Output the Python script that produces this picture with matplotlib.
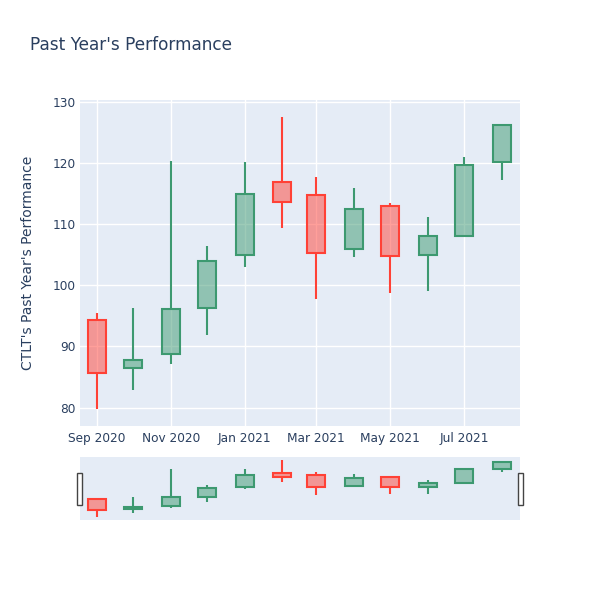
import matplotlib
matplotlib.use("Agg")
import matplotlib.pyplot as plt
import matplotlib.dates as mdates
from matplotlib.patches import Rectangle
import numpy as np
import pandas as pd

plt.rcParams['font.family'] = ['DejaVu Sans']

dates = ["2020-09-01", "2020-10-01", "2020-11-01", "2020-12-01", "2021-01-01", "2021-02-01",
         "2021-03-01", "2021-04-01", "2021-05-01", "2021-06-01", "2021-07-01", "2021-08-01"]
opens = [94.4, 86.5, 88.7, 96.25, 104.9, 116.9, 114.7, 105.9, 113.0, 104.9, 108.1, 120.2]
highs = [95.5, 96.3, 120.4, 106.5, 120.1, 127.6, 117.7, 115.9, 113.5, 111.1, 121.0, 126.2]
lows = [79.7, 82.95, 87.2, 91.9, 103.0, 109.4, 97.8, 104.65, 98.8, 99.0, 108.1, 117.2]
closes = [85.7, 87.8, 96.1, 104.05, 115.0, 113.6, 105.25, 112.45, 104.8, 108.1, 119.75, 126.2]

tick_dates = ["2020-09-01", "2020-11-01", "2021-01-01", "2021-03-01", "2021-05-01", "2021-07-01"]
tick_labels = ["Sep 2020", "Nov 2020", "Jan 2021", "Mar 2021", "May 2021", "Jul 2021"]
y_ticks = [80, 90, 100, 110, 120, 130]

title = "Past Year's Performance"
ylabel = "CTLT's Past Year's Performance"

INC = "#3D9970"
DEC = "#FF4136"
BG = "#E5ECF6"
TXT = "#2a3f5f"

x = mdates.date2num(pd.to_datetime(dates))
xlim = (mdates.date2num(pd.Timestamp("2020-08-18")), mdates.date2num(pd.Timestamp("2021-08-16")))
ylim = (77.0, 130.3)

fig = plt.figure(figsize=(6, 6), dpi=100)
ax = fig.add_axes([80/600, 1-426/600, 440/600, 326/600])
axs = fig.add_axes([80/600, 1-520/600, 440/600, 63/600])


def draw(a, lw):
    for xi, o, h, l, c in zip(x, opens, highs, lows, closes):
        col = INC if c >= o else DEC
        top, bot = max(o, c), min(o, c)
        a.vlines(xi, top, h, color=col, lw=lw, zorder=3)
        a.vlines(xi, l, bot, color=col, lw=lw, zorder=3)
        a.add_patch(Rectangle((xi - 7.4, bot), 14.8, max(top - bot, 0.05),
                              facecolor=col, alpha=0.5, edgecolor='none', zorder=3))
        a.add_patch(Rectangle((xi - 7.4, bot), 14.8, max(top - bot, 0.05),
                              facecolor='none', edgecolor=col, lw=lw, zorder=4))


for a in (ax, axs):
    a.set_facecolor(BG)
    for s in a.spines.values():
        s.set_visible(False)
    a.set_xlim(*xlim)
    a.set_ylim(*ylim)

draw(ax, 1.5)
draw(axs, 1.5)

ax.set_yticks(y_ticks)
ax.set_yticklabels([str(v) for v in y_ticks])
ax.set_xticks(mdates.date2num(pd.to_datetime(tick_dates)))
ax.set_xticklabels(tick_labels)
ax.grid(True, color='white', lw=1, zorder=0)
ax.set_axisbelow(True)
ax.tick_params(axis='both', length=0, labelsize=8.7, colors=TXT, pad=4)
ax.tick_params(axis='y', pad=3)
ax.set_ylabel(ylabel, fontsize=10, color=TXT, labelpad=13)

axs.set_xticks([])
axs.set_yticks([])

# range slider handles
for hx in (77/600, 518/600):
    fig.patches.append(Rectangle((hx, 1-505/600), 4.5/600, 32/600, transform=fig.transFigure,
                                 facecolor='white', edgecolor='#444444', lw=1, zorder=10))

fig.text(30/600, 1-45/600, title, fontsize=12.2, color=TXT, va='center', ha='left')

fig.savefig("out.png", dpi=100, facecolor='white')
